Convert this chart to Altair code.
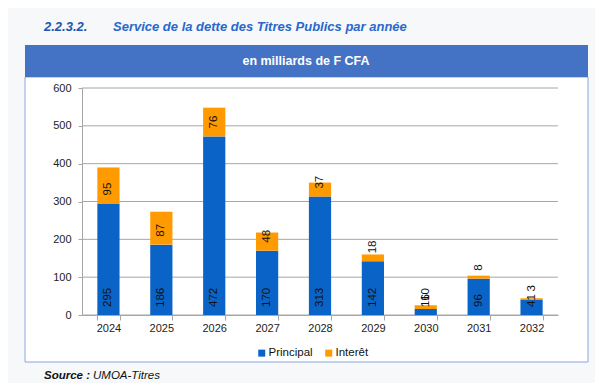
import altair as alt
import pandas as pd

years = ["2024", "2025", "2026", "2027", "2028", "2029", "2030", "2031", "2032"]
principal = [295, 186, 472, 170, 313, 142, 16, 96, 41]
interet = [95, 87, 76, 48, 37, 18, 10, 8, 3]
y_ticks = [0, 100, 200, 300, 400, 500, 600]
series = ["Principal", "Interêt"]
colors = ["#0a64c8", "#ff9a00"]

rows = []
for i, yr in enumerate(years):
    rows.append({"year": yr, "serie": series[0], "base": 0,
                 "top": principal[i], "value": principal[i]})
    rows.append({"year": yr, "serie": series[1], "base": principal[i],
                 "top": principal[i] + interet[i], "value": interet[i]})
df = pd.DataFrame(rows)
grid_df = pd.DataFrame({"v": y_ticks})
one = pd.DataFrame({"k": [0]})

W, H = 476, 227
FONT = "Liberation Sans"
xscale = alt.Scale(domain=years, paddingInner=0.58, paddingOuter=0.29)
yscale = alt.Scale(domain=[0, 600], nice=False)

xaxis = alt.Axis(title=None, labelAngle=0, labelFontSize=11, labelColor="#222222",
                 labelFont=FONT, domainColor="#a6a6a6", tickColor="#a6a6a6",
                 tickSize=5, tickBand="extent", labelPadding=2, zindex=1)
yaxis = alt.Axis(title=None, values=y_ticks, tickCount=7, grid=False, labelFontSize=11,
                 labelColor="#222222", labelFont=FONT, domainColor="#a6a6a6",
                 tickColor="#a6a6a6", tickSize=4, labelPadding=7, zindex=1,
                 labelOverlap=False)

box = alt.Chart(one).mark_rect(fill="white", stroke="#8aa6da", strokeWidth=1).encode(
    x=alt.value(-57), x2=alt.value(506), y=alt.value(-11), y2=alt.value(274))
header = alt.Chart(one).mark_rect(fill="#4472C4").encode(
    x=alt.value(-57), x2=alt.value(506), y=alt.value(-43), y2=alt.value(-11))
header_text = alt.Chart(one).mark_text(
    text="en milliards de F CFA", color="white", fontWeight="bold",
    fontSize=12.5, font=FONT, baseline="middle").encode(x=alt.value(224), y=alt.value(-27))
t1 = alt.Chart(one).mark_text(
    text="2.2.3.2.", align="left", baseline="middle", fontStyle="italic",
    fontWeight="bold", color="#1f56b0", fontSize=13, font=FONT).encode(
    x=alt.value(-38), y=alt.value(-61))
t2 = alt.Chart(one).mark_text(
    text="Service de la dette des Titres Publics par année", align="left",
    baseline="middle", fontStyle="italic", fontWeight="bold", color="#2a68cc",
    fontSize=13, font=FONT).encode(x=alt.value(31), y=alt.value(-61))
s1 = alt.Chart(one).mark_text(
    text="Source :", align="left", baseline="middle", fontStyle="italic",
    fontWeight="bold", color="#111111", fontSize=11.5, font=FONT).encode(
    x=alt.value(-38), y=alt.value(288))
s2 = alt.Chart(one).mark_text(
    text="UMOA-Titres", align="left", baseline="middle", fontStyle="italic",
    color="#111111", fontSize=11.5, font=FONT).encode(
    x=alt.value(11), y=alt.value(288))

grid = alt.Chart(grid_df).mark_rule(color="#a6a6a6", strokeWidth=1).encode(
    y=alt.Y("v:Q", scale=yscale, axis=yaxis), x=alt.value(0), x2=alt.value(W))

bars = alt.Chart(df).mark_bar().encode(
    x=alt.X("year:N", scale=xscale, sort=years, axis=xaxis),
    y=alt.Y("base:Q", scale=yscale, axis=yaxis),
    y2="top:Q",
    color=alt.Color("serie:N", scale=alt.Scale(domain=series, range=colors),
                    legend=alt.Legend(title=None, orient="none", legendX=174, legendY=259,
                                      direction="horizontal", symbolType="square",
                                      symbolSize=49, symbolStrokeWidth=0,
                                      labelFontSize=11.5, labelFont=FONT,
                                      labelColor="#111111", columnPadding=10,
                                      labelOffset=1)),
)

labels = alt.Chart(df).mark_text(
    angle=270, align="left", baseline="middle", dx=8, fontSize=11.5,
    font=FONT, color="#111111").encode(
    x=alt.X("year:N", scale=xscale, sort=years, axis=xaxis),
    y=alt.Y("base:Q", scale=yscale, axis=yaxis),
    text="value:Q")

chart = alt.layer(box, header, header_text, t1, t2, s1, s2, grid, bars, labels).properties(
    width=W, height=H,
    autosize=alt.AutoSizeParams(type="none"),
    padding={"left": 74, "top": 80, "right": 37, "bottom": 68},
    background="#f6f8f9",
).configure_view(stroke=None)

chart.save("out.html", embed_options={"renderer": "svg", "actions": False})
